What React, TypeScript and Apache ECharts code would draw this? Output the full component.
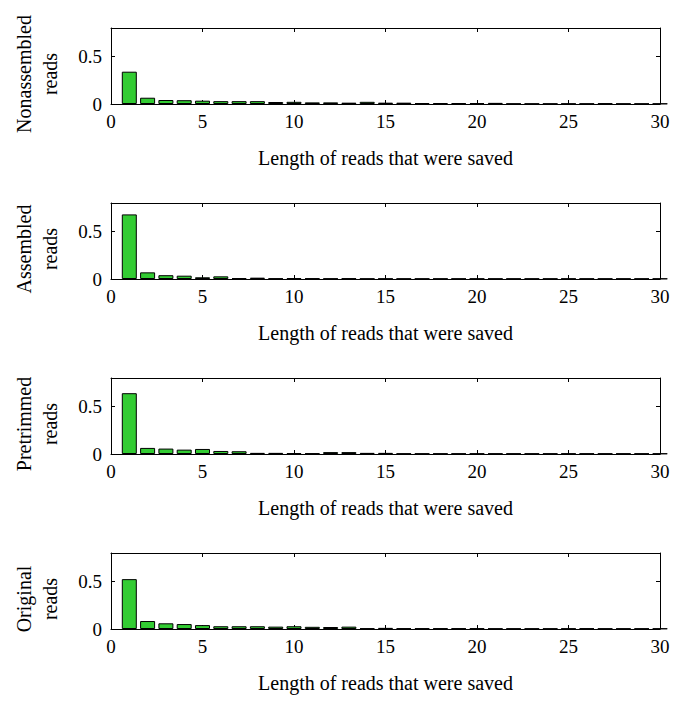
import React, { useEffect, useRef } from "react";
import * as echarts from "echarts";

const readLengths = [1, 2, 3, 4, 5, 6, 7, 8, 9, 10, 11, 12, 13, 14, 15, 16, 17, 18, 19, 20, 21, 22, 23, 24, 25, 26, 27, 28, 29, 30];

const panelNames = ["Nonassembled\nreads", "Assembled\nreads", "Pretrimmed\nreads", "Original\nreads"];

const nonassembled = [0.34, 0.066, 0.042, 0.04, 0.035, 0.03, 0.03, 0.03, 0.021, 0.023, 0.017, 0.017, 0.014, 0.023, 0.014, 0.014, 0.01, 0.01, 0.01, 0.01, 0.012, 0.004, 0.004, 0.004, 0.004, 0.004, 0.007, 0.004, 0.004, 0.004];
const assembled = [0.68, 0.07, 0.04, 0.035, 0.018, 0.028, 0.009, 0.014, 0.006, 0.009, 0.007, 0.005, 0.007, 0.004, 0.004, 0.004, 0.004, 0.004, 0.004, 0.004, 0.004, 0.004, 0.004, 0.004, 0.004, 0.004, 0.004, 0.004, 0.004, 0.004];
const pretrimmed = [0.64, 0.064, 0.057, 0.046, 0.053, 0.032, 0.029, 0.012, 0.012, 0.009, 0.007, 0.02, 0.02, 0.012, 0.012, 0.005, 0.005, 0.005, 0.005, 0.005, 0.005, 0.005, 0.005, 0.005, 0.005, 0.005, 0.005, 0.005, 0.005, 0.005];
const original = [0.525, 0.084, 0.06, 0.052, 0.041, 0.029, 0.029, 0.029, 0.025, 0.029, 0.023, 0.021, 0.025, 0.007, 0.012, 0.007, 0.007, 0.007, 0.007, 0.007, 0.005, 0.005, 0.005, 0.005, 0.005, 0.007, 0.005, 0.005, 0.005, 0.005];

const panelValues = [nonassembled, assembled, pretrimmed, original];

const xTitle = "Length of reads that were saved";

export default function App() {
  const ref = useRef<HTMLDivElement>(null);
  useEffect(() => {
    document.body.style.margin = "0";
    if (!ref.current) return;
    const chart = echarts.init(ref.current, null, { renderer: "svg" });
    const font = "Liberation Serif";
    const top0 = 28;
    const step = 175;
    const h = 76;
    const left = 111;
    const right = 26;

    const grids: any[] = [];
    const xAxes: any[] = [];
    const yAxes: any[] = [];
    const series: any[] = [];
    const graphics: any[] = [];

    panelValues.forEach((vals, i) => {
      const top = top0 + step * i;
      grids.push({ left, right, top, height: h, show: false });
      const tick = { show: true, inside: true, length: 4, lineStyle: { color: "#000", width: 1 } };
      const line = { show: true, onZero: false, lineStyle: { color: "#000", width: 1 } };
      xAxes.push({
        type: "value", gridIndex: i, min: 0, max: 30, interval: 5, position: "bottom",
        axisLine: line, axisTick: tick, splitLine: { show: false },
        axisLabel: { color: "#000", fontFamily: font, fontSize: 19, margin: 8 },
        name: xTitle, nameLocation: "middle", nameGap: 44,
        nameTextStyle: { color: "#000", fontFamily: font, fontSize: 20 },
      });
      xAxes.push({
        type: "value", gridIndex: i, min: 0, max: 30, interval: 5, position: "top",
        axisLine: line, axisTick: tick, splitLine: { show: false }, axisLabel: { show: false },
      });
      yAxes.push({
        type: "value", gridIndex: i, min: 0, max: 0.8, interval: 0.5, position: "left",
        axisLine: line, axisTick: tick, splitLine: { show: false },
        axisLabel: { color: "#000", fontFamily: font, fontSize: 19, margin: 9, showMaxLabel: false,
          formatter: (v: number) => (v === 0 ? "0" : v === 0.5 ? "0.5" : "") },
      });
      yAxes.push({
        type: "value", gridIndex: i, min: 0, max: 0.8, interval: 0.5, position: "right",
        axisLine: line, axisTick: tick, splitLine: { show: false }, axisLabel: { show: false },
      });
      series.push({
        type: "bar", xAxisIndex: 2 * i, yAxisIndex: 2 * i,
        data: readLengths.map((x, k) => [x, vals[k]]),
        barWidth: "82%",
        itemStyle: { color: "#33cc33", borderColor: "#000", borderWidth: 1 },
      });
      graphics.push({
        type: "text", x: 37, y: top + h / 2 + 8, rotation: Math.PI / 2,
        style: { text: panelNames[i], align: "center", verticalAlign: "middle", lineHeight: 26,
          font: `20px "${font}"`, fill: "#000" },
      });
    });

    chart.setOption({
      animation: false,
      backgroundColor: "#fff",
      grid: grids,
      xAxis: xAxes,
      yAxis: yAxes,
      series,
      graphic: graphics,
    });
    return () => chart.dispose();
  }, []);
  return <div ref={ref} style={{ width: 686, height: 703 }} />;
}
